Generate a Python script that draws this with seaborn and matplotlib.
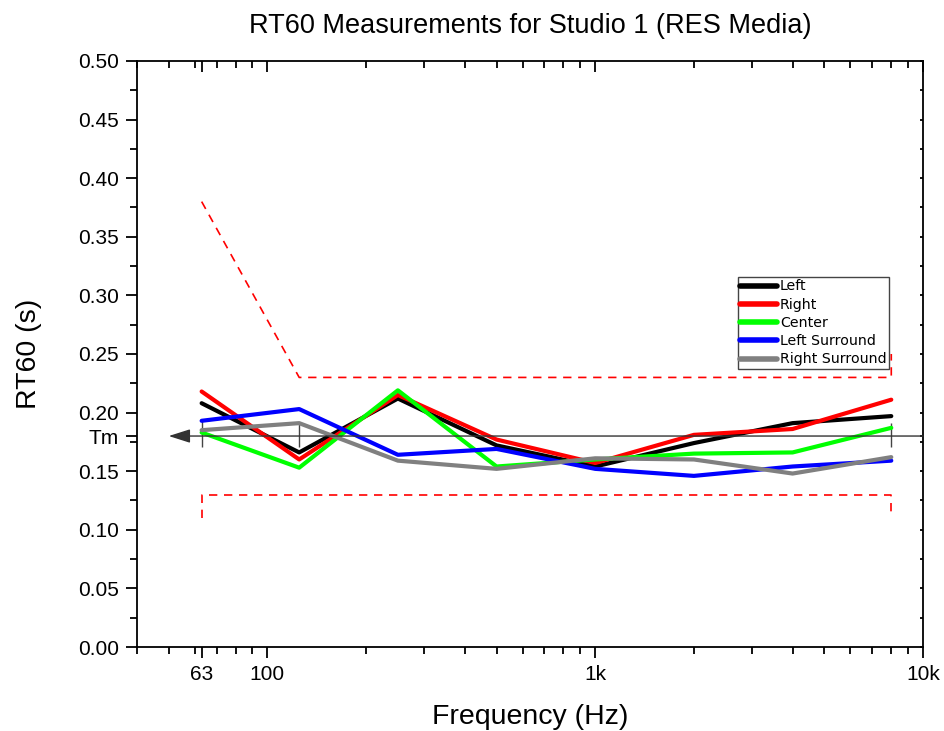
import numpy as np
import pandas as pd
import matplotlib
matplotlib.use("Agg")
import matplotlib.pyplot as plt
from matplotlib.ticker import FixedLocator, NullFormatter
import seaborn as sns

freqs = [63, 125, 250, 500, 1000, 2000, 4000, 8000]
left = [0.208, 0.166, 0.212, 0.172, 0.154, 0.174, 0.191, 0.197]
right = [0.218, 0.160, 0.215, 0.177, 0.157, 0.181, 0.186, 0.211]
center = [0.183, 0.153, 0.219, 0.154, 0.160, 0.165, 0.166, 0.187]
left_surround = [0.193, 0.203, 0.164, 0.169, 0.152, 0.146, 0.154, 0.159]
right_surround = [0.185, 0.191, 0.159, 0.152, 0.161, 0.160, 0.148, 0.162]
series_names = ["Left", "Right", "Center", "Left Surround", "Right Surround"]
series_colors = ["#000000", "#ff0000", "#00ff00", "#0000ff", "#808080"]

upper_x = [63, 125, 8000, 8000]
upper_y = [0.38, 0.23, 0.23, 0.25]
lower_x = [63, 63, 8000, 8000]
lower_y = [0.11, 0.13, 0.13, 0.11]
tm_value = 0.18
tm_arrow_start = 50
tm_marks_x = [63, 125, 8000]
tm_marks_lo = [0.171, 0.171, 0.171]
tm_marks_hi = [0.193, 0.191, 0.191]

x_major = [63, 100, 1000, 10000]
x_major_labels = ["63", "100", "1k", "10k"]
y_major = [0.0, 0.05, 0.10, 0.15, 0.20, 0.25, 0.30, 0.35, 0.40, 0.45, 0.50]

sns.set_theme(style="white")
plt.rcParams["font.family"] = ["Liberation Sans", "DejaVu Sans"]
plt.rcParams["text.color"] = "black"
plt.rcParams["axes.labelcolor"] = "black"
plt.rcParams["xtick.color"] = "black"
plt.rcParams["ytick.color"] = "black"

rows = []
for name, vals in zip(series_names, [left, right, center, left_surround, right_surround]):
    for f, v in zip(freqs, vals):
        rows.append({"Frequency": f, "RT60": v, "Channel": name})
df = pd.DataFrame(rows)

fig = plt.figure(figsize=(9.44, 7.31), dpi=100)
ax = fig.add_axes([0.1451, 0.1149, 0.8327, 0.8017])

# tolerance lines
ax.plot(upper_x, upper_y, color="red", lw=1.2, ls=(0, (5, 4)))
ax.plot(lower_x, lower_y, color="red", lw=1.2, ls=(0, (5, 4)))

# Tm line with arrow
ax.annotate("", xy=(tm_arrow_start, tm_value), xytext=(10000, tm_value),
            arrowprops=dict(arrowstyle="-|>,head_length=1.1,head_width=0.35",
                            color="#333333", lw=1.0, shrinkA=0, shrinkB=0))
ax.vlines(tm_marks_x, tm_marks_lo, tm_marks_hi, colors="#444444", lw=1.0)

sns.lineplot(data=df, x="Frequency", y="RT60", hue="Channel",
             palette=dict(zip(series_names, series_colors)),
             hue_order=series_names, lw=3, ax=ax, legend=True)

ax.set_xscale("log")
ax.set_xlim(40, 10000)
ax.set_ylim(0, 0.5)

ax.xaxis.set_major_locator(FixedLocator(x_major))
ax.set_xticklabels(x_major_labels)
minors = [m * d for d in [10, 100, 1000] for m in range(1, 10)
          if 40 <= m * d <= 10000 and m * d not in x_major]
ax.xaxis.set_minor_locator(FixedLocator(minors))
ax.xaxis.set_minor_formatter(NullFormatter())

ax.set_yticks(y_major + [tm_value])
ax.set_yticklabels([f"{v:.2f}" for v in y_major] + ["Tm"])
ax.yaxis.set_minor_locator(FixedLocator(list(np.arange(0.025, 0.5, 0.05))))

for s in ax.spines.values():
    s.set_visible(True)
    s.set_color("black")
    s.set_linewidth(1.3)

ax.tick_params(axis="both", which="major", direction="out", length=8, width=1.3,
               labelsize=15, colors="black", pad=5)
ax.tick_params(axis="both", which="minor", direction="out", length=5, width=1.3,
               colors="black")
ax.tick_params(axis="x", which="both", top=True, bottom=True)
ax.tick_params(axis="y", which="both", left=True, right=True)
# top ticks inward (pointing down)
for t in ax.xaxis.get_major_ticks() + ax.xaxis.get_minor_ticks():
    t.tick2line.set_marker(3)
# right ticks tiny, inward
for t in ax.yaxis.get_major_ticks() + ax.yaxis.get_minor_ticks():
    t.tick2line.set_marker(0)
    t.tick2line.set_markersize(2.5)

ax.set_xlabel("Frequency (Hz)", fontsize=20.5, labelpad=14, color="black")
ax.set_ylabel("RT60 (s)", fontsize=20.5, labelpad=26, color="black")
ax.set_title("RT60 Measurements for Studio 1 (RES Media)", fontsize=19.5, pad=20,
             color="black")

handles, labels = ax.get_legend_handles_labels()
leg = ax.legend(handles, labels, loc="upper left", bbox_to_anchor=(0.764, 0.632),
                frameon=True, fancybox=False, framealpha=1, edgecolor="#444444",
                prop={"family": "DejaVu Sans", "size": 10.2},
                handlelength=2.6, handletextpad=0.2, labelspacing=0.3,
                borderpad=0.2, borderaxespad=0)
leg.get_frame().set_linewidth(1.0)
for line in leg.get_lines():
    line.set_linewidth(4)
for txt in leg.get_texts():
    txt.set_color("black")

fig.savefig("out.png", dpi=100)
